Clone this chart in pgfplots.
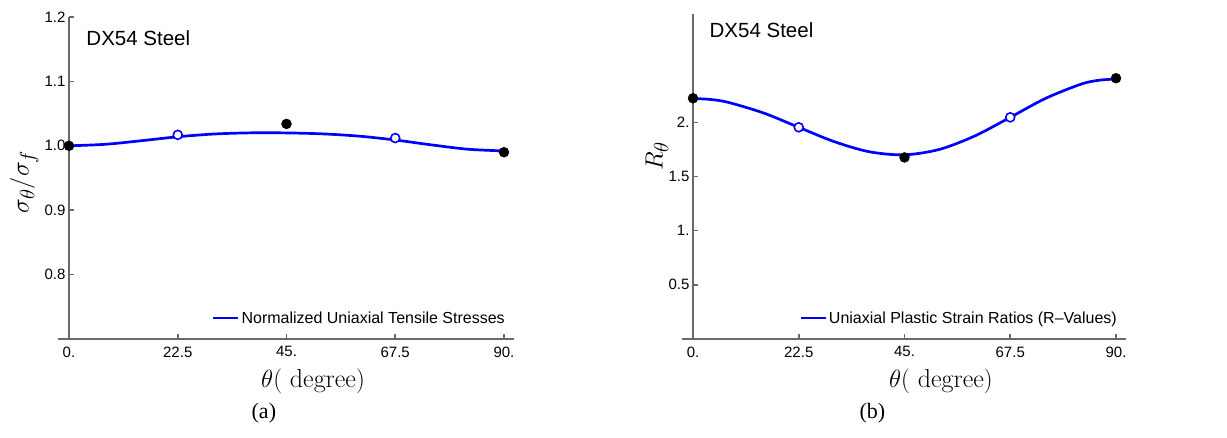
\documentclass[border=0pt]{standalone}
\usepackage[no-math]{fontspec}
\usepackage{pgfplots}
\pgfplotsset{compat=1.18}
\newfontfamily\arial{Liberation Sans}
\newfontfamily\tnr{Liberation Serif}
\definecolor{axisgray}{RGB}{105,105,105}
\pgfplotsset{
  mystyle/.style={
    scale only axis, clip=false,
    xmin=0, xmax=90,
    axis x line*=bottom, axis y line*=left,
    xtick={0,22.5,45,67.5,90}, xticklabels={0.,22.5,45.,67.5,90.},
    tick align=inside, major tick length=5pt,
    axis line style={draw=axisgray, line width=2.1pt},
    x axis line style={shorten <=-11pt, shorten >=-10pt},
    tick style={draw=axisgray, line width=1.6pt},
    ticklabel style={font=\arial\fontsize{15}{18}\selectfont},
    xticklabel style={yshift=-4pt},
    xlabel={$\theta($ degree$)$},
    xlabel style={font=\fontsize{26}{30}\selectfont, anchor=base},
    ylabel style={anchor=center},
    legend image code/.code={\draw[#1] (0pt,0pt) -- (25pt,0pt);},
    legend style={draw=none, fill=none, inner sep=0pt,
      font=\arial\fontsize{16}{19}\selectfont,
      at={(rel axis cs:1,0)}, anchor=east, xshift=3pt, yshift=21pt},
  },
  curve/.style={blue, line width=2.7pt, smooth, tension=0.5},
  filled/.style={only marks, mark=*, mark size=5pt, black, forget plot},
  hollow/.style={only marks, mark=*, mark size=4.5pt, forget plot,
    mark options={fill=white, draw=blue, line width=1.6pt}},
}
\begin{document}
\begin{tikzpicture}
\useasboundingbox (-69pt,-99pt) rectangle (1158pt,339pt);
% (a)
\begin{axis}[mystyle, at={(0pt,0pt)}, anchor=south west,
  width=435pt, height=322pt, ymin=0.7, ymax=1.2,
  ytick={0.8,0.9,1,1.1,1.2}, yticklabels={0.8,0.9,1.0,1.1,1.2},
  xlabel style={at={(axis description cs:0.561,0)}, yshift=-49pt},
  ylabel={$\sigma_\theta/\sigma_f$},
  ylabel style={font=\fontsize{28}{32}\selectfont, at={(axis description cs:-0.103,0.488)}},
]
\addplot[curve] coordinates {
(0,1.0000) (7.5,1.0023) (15,1.0079) (22.5,1.0140) (30,1.0183) (37.5,1.0201)
(45,1.0200) (52.5,1.0185) (60,1.0150) (67.5,1.0090) (75,1.0014) (82.5,0.9947) (90,0.9920)};
\addlegendentry{Normalized Uniaxial Tensile Stresses}
\addplot[filled] coordinates {(0,1.000) (45,1.034) (90,0.990)};
\addplot[hollow] coordinates {(22.5,1.017) (67.5,1.012)};
\node[anchor=base west, font=\arial\fontsize{20.5}{24}\selectfont] at (rel axis cs:0.032,0.91) {DX54 Steel};
\node[font=\tnr\fontsize{22}{26}\selectfont] at (rel axis cs:0.448,-0.23) {(a)};
\end{axis}
% (b)
\begin{axis}[mystyle, at={(624pt,0pt)}, anchor=south west,
  width=423pt, height=325pt, ymin=0, ymax=3,
  ytick={0.5,1,1.5,2}, yticklabels={0.5,1.,1.5,2.},
  xlabel style={at={(axis description cs:0.586,0)}, yshift=-49pt},
  ylabel={$R_\theta$},
  ylabel style={font=\fontsize{30}{34}\selectfont, at={(axis description cs:-0.085,0.563)}},
]
\addplot[curve] coordinates {
(0,2.2200) (3.75,2.2109) (7.5,2.1842) (15,2.0866) (22.5,1.9540) (30,1.8225) (37.5,1.7284)
(45,1.7000) (52.5,1.7508) (60,1.8750) (67.5,2.0460) (75,2.2209) (82.5,2.3516) (86.25,2.3877) (90,2.4000)};
\addlegendentry{Uniaxial Plastic Strain Ratios (R\textendash Values)}
\addplot[filled] coordinates {(0,2.222) (45,1.676) (90,2.407)};
\addplot[hollow] coordinates {(22.5,1.954) (67.5,2.046)};
\node[anchor=base west, font=\arial\fontsize{20.5}{24}\selectfont] at (rel axis cs:0.031,0.929) {DX54 Steel};
\node[font=\tnr\fontsize{22}{26}\selectfont] at (rel axis cs:0.424,-0.228) {(b)};
\end{axis}
\end{tikzpicture}
\end{document}
